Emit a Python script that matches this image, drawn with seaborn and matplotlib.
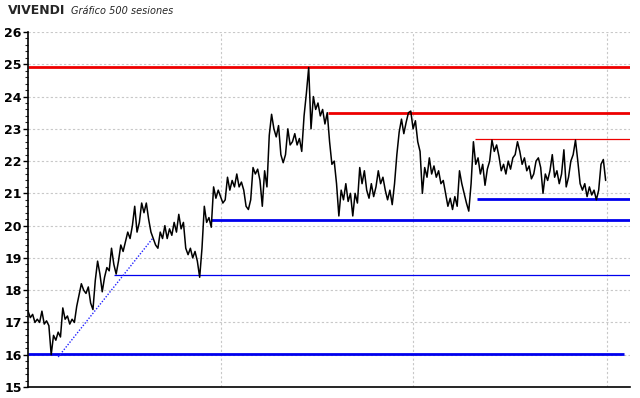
import numpy as np
import pandas as pd
import matplotlib.pyplot as plt
import seaborn as sns

# cierres, una lectura cada 2 sesiones
precio = [
    17.35, 17.15, 17.25, 17.0, 17.1,
    17.0, 17.35, 16.95, 17.05, 16.9,
    16.0, 16.6, 16.45, 16.7, 16.55,
    17.45, 17.1, 17.2, 16.95, 17.1,
    17.0, 17.5, 17.85, 18.2, 18.0,
    17.9, 18.1, 17.6, 17.4, 18.3,
    18.9, 18.5, 17.95, 18.4, 18.7,
    18.6, 19.3, 18.8, 18.5, 18.9,
    19.4, 19.2, 19.5, 19.8, 19.6,
    20.0, 20.6, 19.8, 20.1, 20.7,
    20.4, 20.7, 20.2, 19.8, 19.6,
    19.4, 19.3, 19.8, 19.6, 20.0,
    19.6, 19.9, 19.7, 20.1, 19.8,
    20.35, 19.9, 20.1, 19.3, 19.1,
    19.3, 19.0, 19.2, 18.9, 18.4,
    19.3, 20.6, 20.1, 20.25, 19.95,
    21.2, 20.85, 21.1, 20.9, 20.7,
    20.8, 21.5, 21.1, 21.4, 21.2,
    21.6, 21.2, 21.35, 21.1, 20.6,
    20.5, 20.8, 21.8, 21.6, 21.75,
    21.4, 20.6, 21.7, 21.2, 22.8,
    23.45, 23.0, 22.75, 23.1, 22.2,
    21.95, 22.2, 23.0, 22.5, 22.6,
    22.85, 22.5, 22.7, 22.3, 23.4,
    24.1, 24.9, 23.0, 24.0, 23.6,
    23.8, 23.4, 23.6, 23.15, 23.5,
    22.6, 21.9, 22.0, 21.3, 20.3,
    21.1, 20.8, 21.3, 20.75, 21.0,
    20.3, 21.0, 20.7, 21.8, 21.3,
    21.7, 21.1, 20.85, 21.3, 20.9,
    21.2, 21.7, 21.3, 21.5, 21.1,
    20.8, 21.1, 20.65, 21.3, 22.2,
    22.9, 23.3, 22.85, 23.2, 23.5,
    23.55, 23.0, 23.25, 22.6, 22.3,
    21.0, 21.8, 21.5, 22.1, 21.6,
    21.85, 21.5, 21.7, 21.3, 21.4,
    21.0, 20.6, 20.85, 20.5, 20.9,
    20.6, 21.7, 21.3, 21.0, 20.7,
    20.45, 21.3, 22.6, 21.9, 22.1,
    21.6, 21.9, 21.25, 21.75, 22.0,
    22.65, 22.3, 22.5, 22.15, 21.7,
    21.9, 21.6, 22.0, 21.75, 22.1,
    22.2, 22.6, 22.3, 21.9, 22.1,
    21.7, 21.85, 21.45, 21.6, 22.0,
    22.1, 21.8, 21.0, 21.6, 21.4,
    21.7, 22.2, 21.5, 21.7, 21.3,
    21.6, 22.35, 21.2, 21.5, 22.0,
    22.2, 22.65, 22.0, 21.3, 21.1,
    21.3, 20.9, 21.2, 20.95, 21.1,
    20.8, 21.1, 21.9, 22.05, 21.4,
]
sesiones = np.arange(0, 2 * len(precio), 2)

# resistencias / soportes: nivel, sesion de inicio, sesion final
resist_nivel = [24.91, 23.49, 22.68]
resist_inicio = [0, 259, 385]
resist_fin = [519, 519, 519]
resist_grosor = [2.0, 2.0, 0.9]

soporte_nivel = [20.83, 20.17, 18.47, 16.03]
soporte_inicio = [387, 158, 74, 0]
soporte_fin = [519, 519, 519, 514]
soporte_grosor = [2.0, 2.0, 0.9, 2.0]

# directriz alcista
directriz_x = [26, 108]
directriz_y = [15.93, 19.63]

grid_x = [166, 332, 499]

df = pd.DataFrame({"sesion": sesiones, "precio": precio})

sns.set_style("white")
plt.rcParams["font.family"] = ["DejaVu Sans"]

fig = plt.figure(figsize=(6.4, 3.98), dpi=100)
ax = fig.add_axes([28 / 640, 11 / 398, 602 / 640, 355 / 398])

# rejilla punteada
for gx in grid_x:
    ax.axvline(gx, color="#c8c8c8", lw=0.8, ls=(0, (2, 2)), zorder=0)
for gy in range(16, 27):
    ax.axhline(gy, color="#c8c8c8", lw=0.8, ls=(0, (2, 2)), zorder=0)

for nivel, x0, x1, lw in zip(resist_nivel, resist_inicio, resist_fin, resist_grosor):
    ax.plot([x0, x1], [nivel, nivel], color="#ee0000", lw=lw, zorder=2,
            solid_capstyle="butt")
for nivel, x0, x1, lw in zip(soporte_nivel, soporte_inicio, soporte_fin, soporte_grosor):
    ax.plot([x0, x1], [nivel, nivel], color="#0000ee", lw=lw, zorder=2,
            solid_capstyle="butt")
ax.plot(directriz_x, directriz_y, color="#2222ff", lw=1.0, ls=(0, (1, 1.2)), zorder=2)

sns.lineplot(data=df, x="sesion", y="precio", color="black", lw=1.1, ax=ax, zorder=3)

ax.set_xlim(0, 519)
ax.set_ylim(15, 26)
ax.set_xlabel("")
ax.set_ylabel("")
ax.set_xticks([])
ax.set_yticks(range(15, 27))
ax.set_yticks(np.arange(15, 26.01, 0.2), minor=True)
ax.tick_params(axis="y", which="major", length=3.5, width=1, colors="black",
               labelsize=9, pad=1, left=True)
ax.tick_params(axis="y", which="minor", length=2, width=0.8, left=True)
for lab in ax.get_yticklabels():
    lab.set_fontweight("bold")

for s in ["top", "right"]:
    ax.spines[s].set_visible(False)
for s in ["left", "bottom"]:
    ax.spines[s].set_color("black")
    ax.spines[s].set_linewidth(1.2)

fig.text(8 / 640, 1 - 11 / 398, "VIVENDI", fontsize=9, fontweight="bold",
         va="center", ha="left")
fig.text(71 / 640, 1 - 11 / 398, "Gráfico 500 sesiones", fontsize=7,
         style="italic", va="center", ha="left")

fig.savefig("out.png", dpi=100, facecolor="white")
